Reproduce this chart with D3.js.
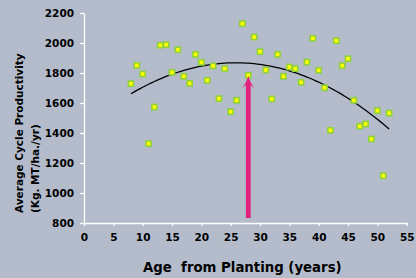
<!DOCTYPE html>
<html>
<head>
<meta charset="utf-8">
<script src="https://cdn.jsdelivr.net/npm/d3@7"></script>
<style>
  body { margin: 0; background: #b4bccb; }
  svg { display: block; font-family: 'DejaVu Sans', Verdana, sans-serif; }
  .axis path, .axis line { stroke: #fff; stroke-width: 1.3; }
  .axis text { font-family: 'DejaVu Sans', Verdana, sans-serif; font-size: 10.5px; font-weight: bold; fill: #000; }
</style>
</head>
<body>
<svg id="chart" width="416" height="278"></svg>
<script>
// age from planting (years)
const ages = [8, 9, 10, 11, 12, 13, 14, 15, 16, 17, 18, 19, 20, 21, 22, 23, 24, 25, 26, 27, 28, 29, 30,
  31, 32, 33, 34, 35, 36, 37, 38, 39, 40, 41, 42, 43, 44, 45, 46, 47, 48, 49, 50, 51, 52];
// average cycle productivity
const productivity = [1729, 1851, 1793, 1329, 1573, 1985, 1989, 1804, 1955, 1778, 1731, 1924, 1871, 1751,
  1847, 1629, 1829, 1542, 1618, 2129, 1784, 2040, 1942, 1820, 1627, 1924, 1778, 1840, 1829, 1738,
  1873, 2031, 1818, 1702, 1418, 2015, 1849, 1895, 1618, 1445, 1460, 1360, 1549, 1115, 1533];

const xTicks = [0, 5, 10, 15, 20, 25, 30, 35, 40, 45, 50, 55];
const yTicks = [800, 1000, 1200, 1400, 1600, 1800, 2000, 2200];

// arrow annotation (age, from, to)
const arrowAge = 28;
const arrowFrom = 833;
const arrowTo = 1780;

const svg = d3.select('#chart');
const margin = { top: 13, right: 9.3, bottom: 55, left: 84 };
const W = 416, H = 278;

const x = d3.scaleLinear().domain([0, 55]).range([margin.left, W - margin.right]);
const y = d3.scaleLinear().domain([800, 2200]).range([H - margin.bottom, margin.top]);

// axes
svg.append('g')
  .attr('class', 'axis')
  .attr('transform', `translate(${margin.left},0)`)
  .call(d3.axisLeft(y).tickValues(yTicks).tickFormat(d3.format('d'))
    .tickSize(4).tickSizeOuter(0).tickPadding(6))
  .selectAll('text').attr('dy', '0.36em');

svg.append('g')
  .attr('class', 'axis')
  .attr('transform', `translate(0,${H - margin.bottom})`)
  .call(d3.axisBottom(x).tickValues(xTicks).tickFormat(d3.format('d'))
    .tickSize(3).tickSizeOuter(0).tickPadding(8));

// quadratic trend line (least squares)
function polyFit(xs, ys) {
  const n = xs.length;
  const S = [0, 0, 0, 0, 0], T = [0, 0, 0];
  for (let i = 0; i < n; i++) {
    for (let k = 0; k < 5; k++) S[k] += Math.pow(xs[i], k);
    for (let k = 0; k < 3; k++) T[k] += ys[i] * Math.pow(xs[i], k);
  }
  const M = [
    [S[0], S[1], S[2], T[0]],
    [S[1], S[2], S[3], T[1]],
    [S[2], S[3], S[4], T[2]]
  ];
  for (let c = 0; c < 3; c++) {
    for (let r = c + 1; r < 3; r++) {
      const f = M[r][c] / M[c][c];
      for (let k = c; k < 4; k++) M[r][k] -= f * M[c][k];
    }
  }
  const b = [0, 0, 0];
  for (let r = 2; r >= 0; r--) {
    let s = M[r][3];
    for (let k = r + 1; k < 3; k++) s -= M[r][k] * b[k];
    b[r] = s / M[r][r];
  }
  return b;
}
const coef = polyFit(ages, productivity);
const trend = d3.range(d3.min(ages), d3.max(ages) + 0.01, 0.5)
  .map(a => [a, coef[0] + coef[1] * a + coef[2] * a * a]);

svg.append('path')
  .datum(trend)
  .attr('fill', 'none')
  .attr('stroke', '#000')
  .attr('stroke-width', 1.3)
  .attr('d', d3.line().x(d => x(d[0])).y(d => y(d[1])));

// points
svg.append('g')
  .selectAll('rect')
  .data(ages)
  .join('rect')
  .attr('x', (d) => x(d) - 2.6)
  .attr('y', (d, i) => y(productivity[i]) - 2.6)
  .attr('width', 5.2)
  .attr('height', 5.2)
  .attr('fill', '#ffff00')
  .attr('stroke', '#8fd13c')
  .attr('stroke-width', 1.6);

// arrow
const ax = x(arrowAge), aTop = y(arrowTo), aBot = y(arrowFrom);
svg.append('path')
  .attr('fill', '#e2237e')
  .attr('d', `M${ax},${aTop}
    Q${ax + 2},${aTop + 7} ${ax + 6},${aTop + 12}
    L${ax + 2.4},${aTop + 9} L${ax + 2.4},${aBot} L${ax - 2.4},${aBot} L${ax - 2.4},${aTop + 9}
    L${ax - 6},${aTop + 12} Q${ax - 2},${aTop + 7} ${ax},${aTop} Z`);

// axis titles
svg.append('text')
  .attr('x', (x(0) + x(55)) / 2 - 3)
  .attr('y', 272)
  .attr('text-anchor', 'middle')
  .attr('font-size', 13.3)
  .attr('font-weight', 'bold')
  .attr('xml:space', 'preserve')
  .text('Age  from Planting (years)');

const yt = svg.append('text')
  .attr('transform', 'translate(0,213) rotate(-90)')
  .attr('font-size', 10.5)
  .attr('font-weight', 'bold');
yt.append('tspan').attr('x', 0).attr('y', 23).text('Average Cycle Productivity');
yt.append('tspan').attr('x', 0).attr('y', 38.5).text('(Kg. MT/ha./yr)');
</script>
</body>
</html>
